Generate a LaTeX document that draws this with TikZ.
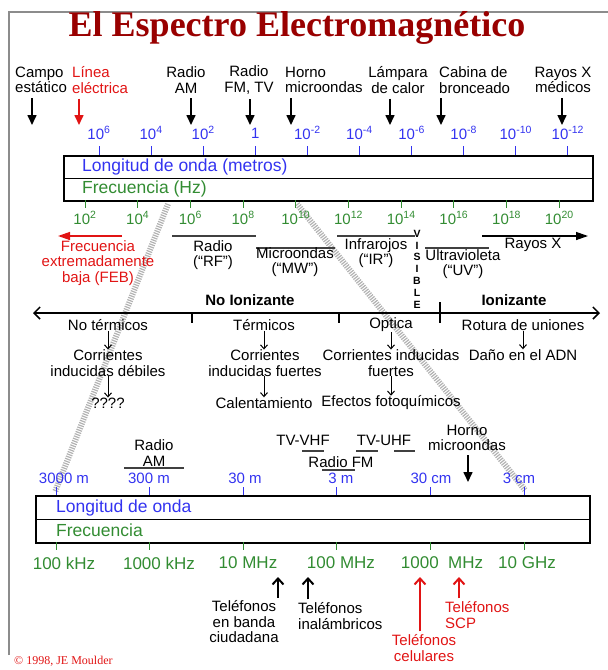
\documentclass[tikz,border=0pt]{standalone}
\usepackage{fontspec}
\setmainfont{Liberation Sans}
\newfontfamily\ttlfont{Liberation Serif}
\usetikzlibrary{arrows.meta}
\definecolor{ttlred}{RGB}{153,0,0}
\definecolor{wblue}{RGB}{51,51,240}
\definecolor{fgreen}{RGB}{50,140,50}
\definecolor{lred}{RGB}{225,20,20}
\begin{document}
\begin{tikzpicture}[x=1pt, y=-1pt, every node/.style={inner sep=0pt, align=center, font=\fontsize{15}{15.5}\selectfont},
    lenlbl/.style={text=wblue}, frqlbl/.style={text=fgreen}, redlbl/.style={text=lred},
    bigf/.style={font=\fontsize{17.5}{18}\selectfont},
    specbox/.style={draw, line width=2pt},
    dnarr/.style={line width=1.6pt, -{Triangle[width=9pt,length=10pt]}},
    smarr/.style={line width=1pt, -{Straight Barb[width=7pt,length=4pt]}},
    uparr/.style={line width=2pt, -{Straight Barb[width=11pt,length=6pt]}},
    band/.style={line width=1.3pt, black!75},
    zoomln/.style={line width=6pt, black!30, dash pattern=on 1.2pt off 1.2pt}]
  \useasboundingbox (0,0) rectangle (608,670);
  \draw[black!45, line width=1.5pt] (9,655) -- (9,12) -- (608,12);
  \node[text=ttlred, font=\ttlfont\bfseries\fontsize{36}{38}\selectfont] (title) at (297,28) {El Espectro Electromagnético};

  % zoom lines
  \draw[zoomln] (168,204) -- (55,492);
  \draw[zoomln] (297,204) -- (525,490);

  % sources on top
  \node[anchor=west, align=left] (campo) at (15,80) {Campo\\estático};
  \node[redlbl, anchor=west, align=left] (linea) at (72,80) {Línea\\eléctrica};
  \node (radam) at (186,80) {Radio\\AM};
  \node (radfm) at (249,80) {Radio\\FM, TV};
  \node[anchor=west, align=left] (horno) at (285,80) {Horno\\microondas};
  \node (lamp) at (398,80) {Lámpara\\de calor};
  \node[anchor=west, align=left] (cabina) at (439,80) {Cabina de\\bronceado};
  \node (rxmed) at (563,80) {Rayos X\\médicos};
  \foreach \n/\x/\c in {campo/32/black, linea/79/lred, radam/191/black, radfm/250/black, horno/291/black, lamp/390/black, cabina/441/black, rxmed/562/black} {
    \coordinate (\n-t) at (\x,125);
    \draw[dnarr, \c, shorten <=5pt] (\n-t |- \n.south) -- (\n-t);
  }

  % upper scale
  \node[specbox, minimum width=529pt, minimum height=45pt, anchor=north west] (wbox) at (63,155) {};
  \draw[line width=1pt] (wbox.west) -- (wbox.east);
  \node[lenlbl, bigf, anchor=west] (wlen) at (82,166.5) {Longitud de onda (metros)};
  \node[frqlbl, bigf, anchor=west] (wfrq) at (82,189) {Frecuencia (Hz)};
  \foreach \t [count=\k from 0] in {10\textsuperscript{6}, 10\textsuperscript{4}, 10\textsuperscript{2}, 1, 10\textsuperscript{-2}, 10\textsuperscript{-4}, 10\textsuperscript{-6}, 10\textsuperscript{-8}, 10\textsuperscript{-10}, 10\textsuperscript{-12}} {
    \draw[wblue, line width=1pt] ({99+52.1*\k},146) -- ++(0,9);
    \node[lenlbl] (wt\k) at ({99+52.1*\k},133) {\t};
  }
  \foreach \e [count=\k from 0] in {2,4,...,20} {
    \draw[fgreen, line width=1pt] ({85+52.7*\k},200) -- ++(0,8);
    \node[frqlbl] (ft\k) at ({85+52.7*\k},218) {10\textsuperscript{\e}};
  }

  % bands
  \draw[lred, line width=1.3pt, -{Triangle[width=8pt,length=12pt]}] (122,236) -- (58,236);
  \node[redlbl] (feb) at (98,263) {Frecuencia\\extremadamente\\baja (FEB)};
  \draw[band] (172,236) -- (256,236);
  \node (rf) at (213,255) {Radio\\(``RF'')};
  \draw[band] (256,248) -- (335,248);
  \node (mw) at (295,262) {Microondas\\(``MW'')};
  \draw[band] (337,236) -- (415,236);
  \node (ir) at (376,253) {Infrarojos\\(``IR'')};
  \node[font=\bfseries\fontsize{10.5}{11.8}\selectfont] (vis) at (417,269) {V\\I\\S\\I\\B\\L\\E};
  \draw[band] (425,248) -- (489,248);
  \node (uv) at (463,264) {Ultravioleta\\(``UV'')};
  \draw[band, black, -{Triangle[width=8pt,length=12pt]}] (482,236) -- (588,236);
  \node (rx) at (533,245) {Rayos X};

  % ionizing
  \node[font=\bfseries\fontsize{15}{16}\selectfont] (noion) at (250,300) {No Ionizante};
  \node[font=\bfseries\fontsize{15}{16}\selectfont] (ion) at (514,300) {Ionizante};
  \coordinate (ax-l) at (33,313);
  \coordinate (ax-r) at (600,313);
  \draw[line width=1.5pt, {Straight Barb[width=12pt,length=6pt]}-{Straight Barb[width=12pt,length=6pt]}] (ax-l) -- (ax-r);
  \draw[line width=1.5pt] (192,313) -- (192,323) (339,313) -- (339,323) (440,302) -- (440,323);

  \node (nt) at (108,325) {No térmicos};
  \node (ci1) at (108,363) {Corrientes\\inducidas débiles};
  \node (q) at (108,403) {????};
  \node (tm) at (264,325) {Térmicos};
  \node (ci2) at (265,363) {Corrientes\\inducidas fuertes};
  \node (cal) at (264,403) {Calentamiento};
  \node (op) at (391,325) {Optica};
  \node (ci3) at (391,363) {Corrientes inducidas\\fuertes};
  \node (foto) at (391,403) {Efectos fotoquímicos};
  \node (rot) at (523,325) {Rotura de uniones};
  \node (adn) at (523,355) {Daño en el ADN};
  \draw[smarr] (nt) -- (ci1);
  \draw[smarr] (ci1) -- (q);
  \draw[smarr] (tm) -- (tm |- ci2.north);
  \draw[smarr] (tm |- ci2.south) -- (tm |- cal.north);
  \draw[smarr] (op) -- (ci3);
  \draw[smarr] (ci3) -- (foto);
  \draw[smarr] (rot) -- (adn);

  % lower scale
  \node (am) at (154,453) {Radio\\AM};
  \draw[band] (124,468) -- (184,468);
  \node (vhf) at (303,440) {TV-VHF};
  \draw[band] (302,451) -- (324,451);
  \node (uhf) at (384,440) {TV-UHF};
  \draw[band] (356,451) -- (378,451) (394,451) -- (415,451);
  \node (fm) at (341,462) {Radio FM};
  \draw[band] (322,470) -- (355,470);
  \node (horno2) at (467,438) {Horno\\microondas};
  \coordinate (horno2-t) at (468,482);
  \draw[dnarr, shorten <=4pt] (horno2-t |- horno2.south) -- (horno2-t);

  \node[specbox, minimum width=554pt, minimum height=47pt, anchor=north west] (fbox) at (35,495) {};
  \draw[line width=1pt] (fbox.west) -- (fbox.east);
  \node[lenlbl, bigf, anchor=west] (flen) at (56,508) {Longitud de onda};
  \node[frqlbl, bigf, anchor=west] (ffrq) at (56,530) {Frecuencia};
  \foreach \k in {0,...,5} {
    \draw[wblue, line width=1pt] ({56+93.6*\k},487) -- ++(0,8);
    \draw[fgreen, line width=1pt] ({56+93.6*\k},542) -- ++(0,8);
  }
  \foreach \x/\t [count=\k] in {64/3000 m, 149/300 m, 245/30 m, 341/3 m, 431/30 cm, 519/3 cm}
    \node[lenlbl] (wl\k) at (\x,478) {\t};
  \foreach \x/\t [count=\k] in {64/100 kHz, 159/1000 kHz, 248/10 MHz, 341/100 MHz, 442/1000\ \ MHz, 527/10 GHz}
    \node[frqlbl, font=\fontsize{17}{18}\selectfont] (fl\k) at (\x,563) {\t};

  % phones
  \node (cb) at (244,622) {Teléfonos\\en banda\\ciudadana};
  \node[anchor=west, align=left] (inal) at (298,616) {Teléfonos\\inalámbricos};
  \node[redlbl, anchor=west, align=left] (scp) at (445,615) {Teléfonos\\SCP};
  \node[redlbl] (cel) at (424,648) {Teléfonos\\celulares};
  \coordinate (cb-t) at (278,577);
  \coordinate (inal-t) at (308,577);
  \coordinate (cel-t) at (420,577);
  \coordinate (scp-t) at (459,577);
  \draw[uparr, shorten <=3pt] (cb-t |- cb.north) -- (cb-t);
  \draw[uparr, shorten <=3pt] (inal-t |- inal.north) -- (inal-t);
  \draw[uparr, lred, shorten <=3pt] (cel-t |- cel.north) -- (cel-t);
  \draw[uparr, lred, shorten <=3pt] (scp-t |- scp.north) -- (scp-t);

  \node[redlbl, anchor=west, font=\ttlfont\fontsize{12}{13}\selectfont] (copy) at (14,661) {© 1998, JE Moulder};
\end{tikzpicture}
\end{document}
